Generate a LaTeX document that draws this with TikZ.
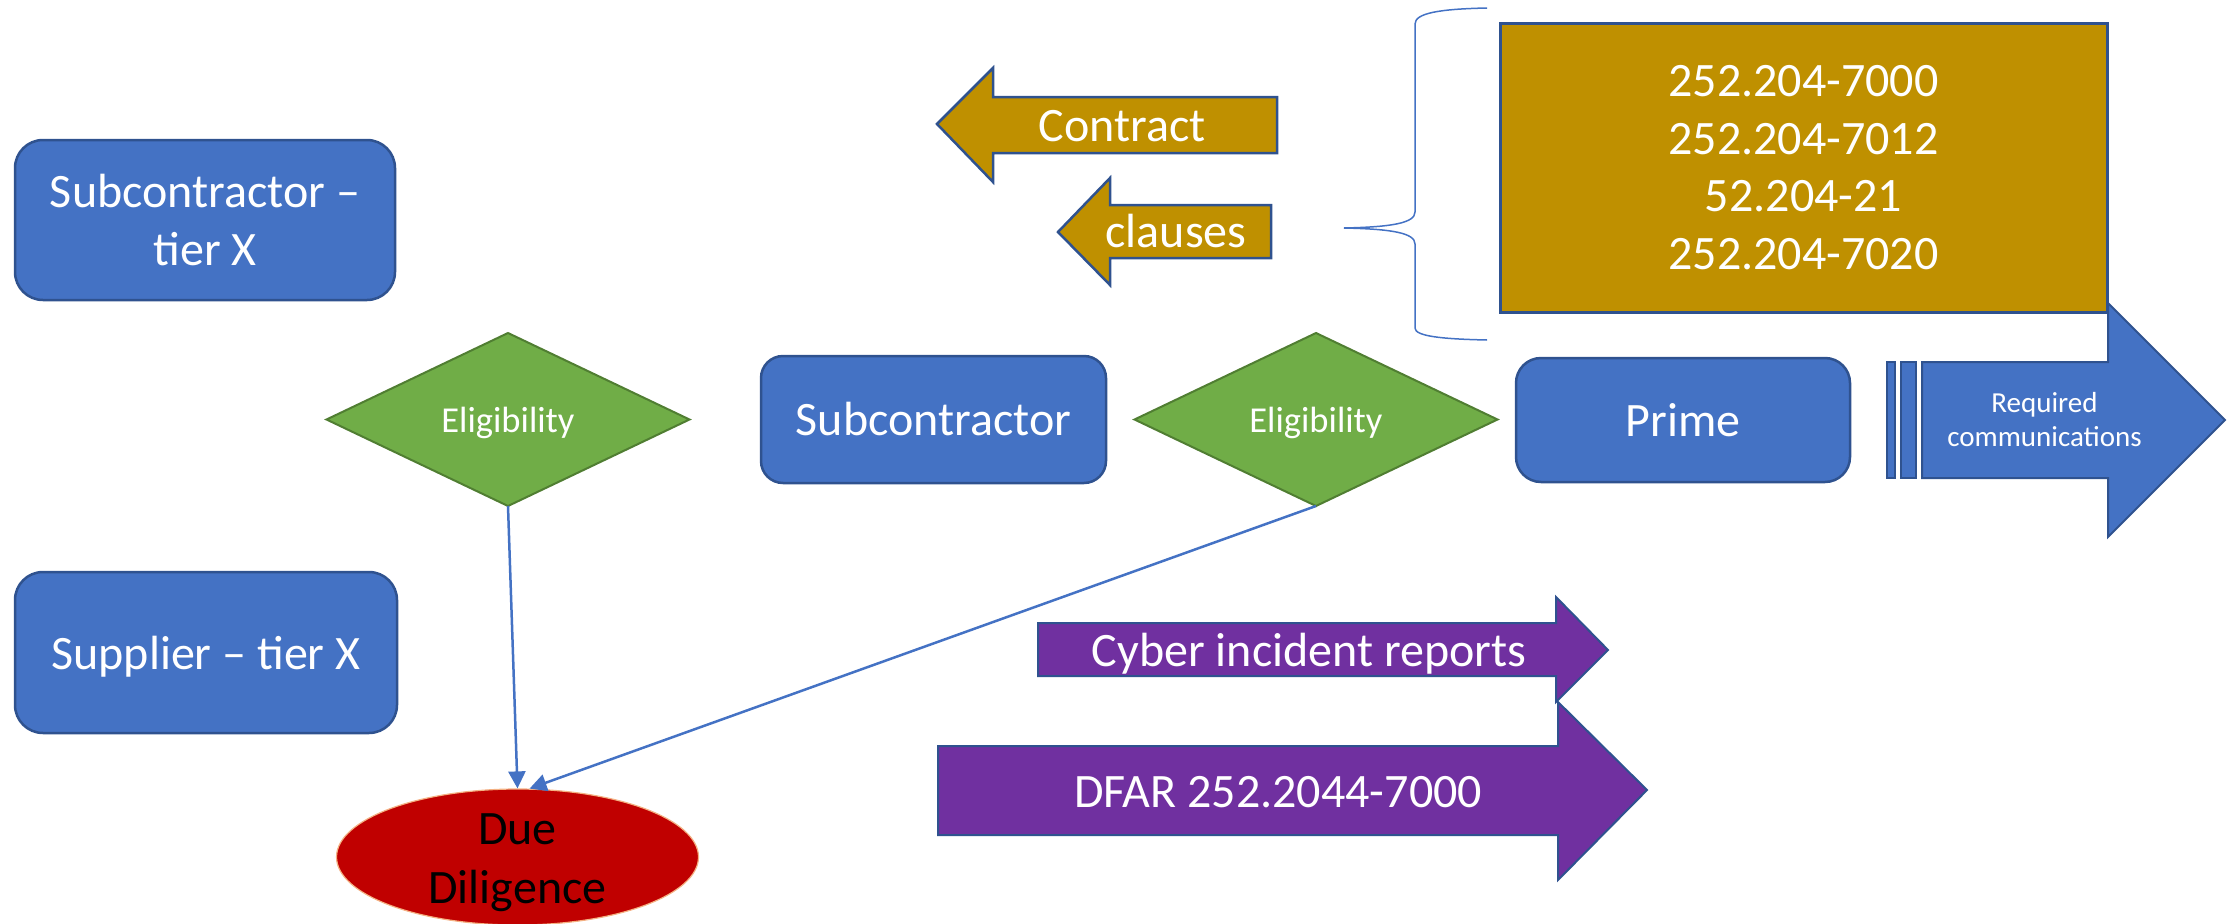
\documentclass[tikz,border=0pt]{standalone}
\usepackage{fontspec}
\setmainfont{Carlito}
\usetikzlibrary{shapes.geometric,arrows.meta}
\definecolor{boxblue}{HTML}{4472C4}
\definecolor{edgeblue}{HTML}{2F528F}
\definecolor{gold}{HTML}{BF9000}
\definecolor{leaf}{HTML}{70AD47}
\definecolor{leafedge}{HTML}{507E32}
\definecolor{plum}{HTML}{7030A0}
\definecolor{crimson}{HTML}{C00000}
\definecolor{ember}{HTML}{F4B183}

\tikzset{
  bigtext/.style={font=\fontsize{48}{57.5}\selectfont},
  party/.style={draw=edgeblue, line width=2.5pt, fill=boxblue, text=white, bigtext,
                align=center, inner sep=0pt, outer sep=0pt},
  gate/.style={diamond, aspect=2, draw=leafedge, line width=2pt, fill=leaf, text=white,
               font=\fontsize{36.5}{44}\selectfont, inner sep=0pt, outer sep=0pt,
               text depth=0pt, minimum width=363pt, minimum height=173pt},
  goldarrow/.style={draw=edgeblue, line width=2.5pt, fill=gold},
  plumarrow/.style={draw=edgeblue, line width=2pt, fill=plum},
  bluearrow/.style={draw=edgeblue, line width=2pt, fill=boxblue},
  wtext/.style={text=white, bigtext, inner sep=0pt},
  link/.style={draw=boxblue, line width=2.5pt, -{Triangle[length=17pt,width=17pt]}},
}

\begin{document}
\begin{tikzpicture}[x=1pt,y=-1pt]
\useasboundingbox (0,0) rectangle (2231,924);

% tier X parties on the left
\node[party, rounded corners=28pt, minimum width=380pt, minimum height=160pt]
  (subx) at (205,220) {Subcontractor –\\tier X};
\node[party, rounded corners=28pt, minimum width=382pt, minimum height=161pt, text depth=0pt]
  (supx) at (206,652.5) {Supplier – tier X};

% eligibility checks and the parties between them
\node[gate] (eligA) at (508,419.5) {Eligibility};
\node[party, rounded corners=22pt, minimum width=345pt, minimum height=127pt]
  (sub) at (933.5,419.5) {Subcontractor};
\node[gate] (eligB) at (1316,419.5) {Eligibility};
\node[party, rounded corners=25pt, minimum width=334pt, minimum height=124pt]
  (prime) at (1683,420) {Prime};

% required communications arrow with its two stripes
\draw[bluearrow] (1887,362) rectangle (1895,478);
\draw[bluearrow] (1901,362) rectangle (1916,478);
\draw[bluearrow] (1922,362) -- (2108,362) -- (2108,303) -- (2225,420)
  -- (2108,537) -- (2108,478) -- (1922,478) -- cycle;
\node[text=white, align=center, inner sep=0pt, font=\fontsize{29}{34}\selectfont]
  (reqcomm) at (2044.5,420) {Required\\communications};

% clause list and its brace
\node[draw=edgeblue, line width=3pt, fill=gold, minimum width=607pt, minimum height=289pt,
      text=white, bigtext, align=center, inner sep=0pt]
  (clauselist) at (1803.5,167.5) {252.204-7000\\252.204-7012\\52.204-21\\252.204-7020};
\draw[boxblue, line width=1.5pt]
  (1487,8) .. controls (1440,9) and (1415,13) .. (1415,24) -- (1415,212)
  .. controls (1415,223) and (1392,227) .. (1344,228)
  .. controls (1392,229) and (1415,233) .. (1415,244) -- (1415,328)
  .. controls (1415,336) and (1440,339) .. (1487,340);

% contract clauses arrows
\draw[goldarrow] (937,124) -- (993,68) -- (993,97) -- (1277,97) -- (1277,153)
  -- (993,153) -- (993,182) -- cycle;
\node[wtext, anchor=base] (contract) at (1122,141) {Contract};
\draw[goldarrow] (1058,232) -- (1110,178) -- (1110,205) -- (1271,205) -- (1271,258)
  -- (1110,258) -- (1110,285) -- cycle;
\node[wtext, anchor=base] (clauses) at (1176,247) {clauses};

% reporting arrows
\draw[plumarrow] (1038,623) -- (1556,623) -- (1556,597) -- (1608,650) -- (1556,702)
  -- (1556,676) -- (1038,676) -- cycle;
\node[wtext, anchor=base] (cyber) at (1309,666) {Cyber incident reports};
\draw[plumarrow] (938,746) -- (1558,746) -- (1558,702) -- (1647,790) -- (1558,880)
  -- (1558,835) -- (938,835) -- cycle;
\node[wtext, anchor=base] (dfar) at (1278,807) {DFAR 252.2044-7000};

% due diligence
\node[ellipse, draw=ember, line width=1.2pt, fill=crimson, minimum width=362pt,
      minimum height=136pt, inner sep=0pt] (dd) at (517.5,857) {};
\node[align=center, inner sep=0pt, font=\fontsize{48}{59}\selectfont]
  (ddtext) at (517.5,863) {Due\\Diligence};

\draw[link] (eligA.south) -- (dd.north);
\draw[link] (eligB.south) -- (dd.80);
\end{tikzpicture}
\end{document}
